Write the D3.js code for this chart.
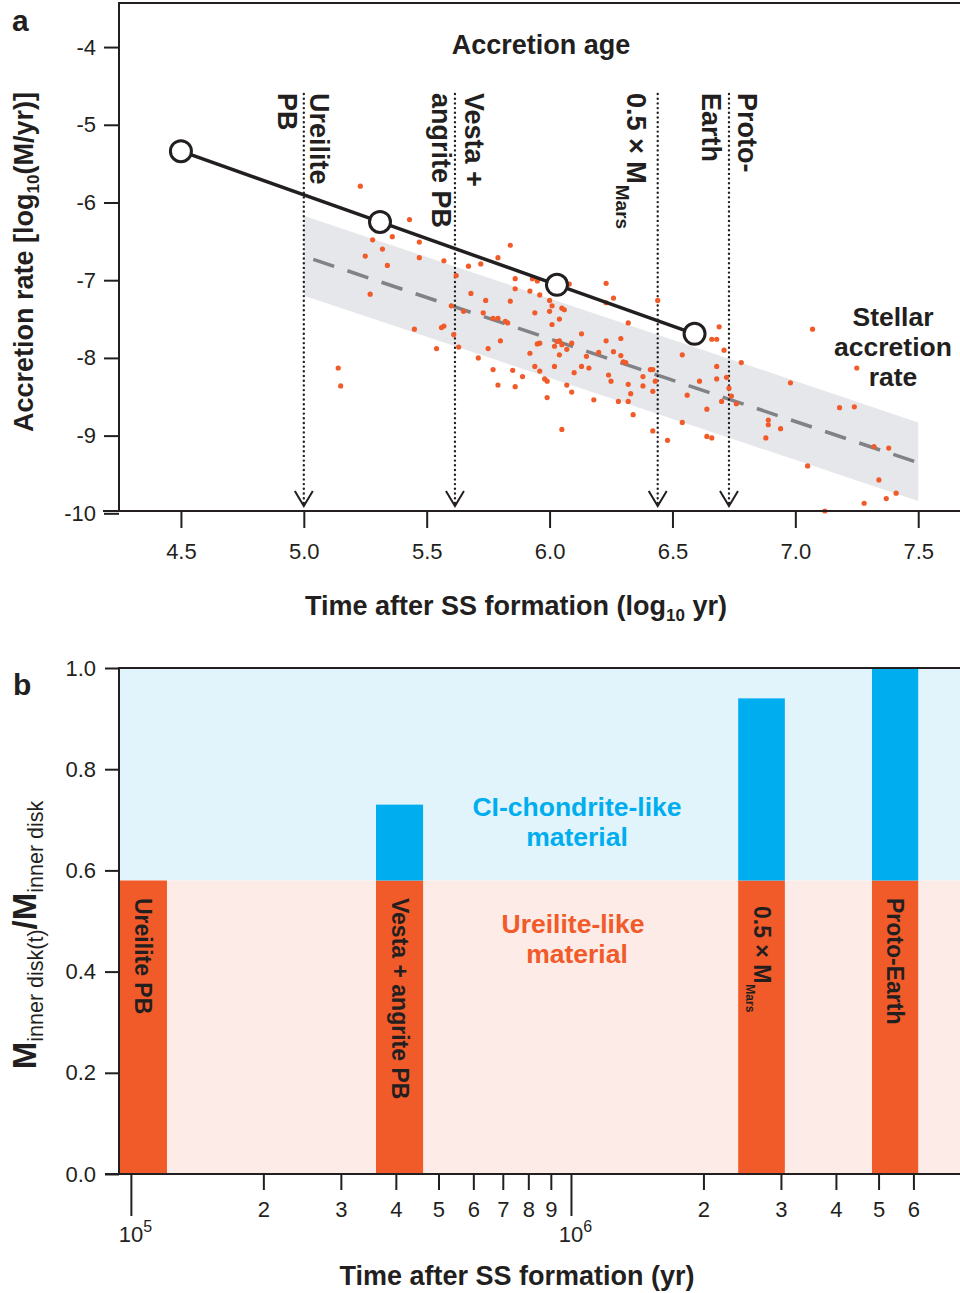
<!DOCTYPE html>
<html>
<head>
<meta charset="utf-8">
<script src="https://cdn.jsdelivr.net/npm/d3@7"></script>
<style>
  body { margin: 0; background: #fff; }
  svg { display: block; }
  text { font-family: "Liberation Sans", Arial, Helvetica, sans-serif; fill: #231f20; }
</style>
</head>
<body>
<svg id="chart" width="960" height="1293"></svg>
<script>
// ---------- Panel a: accretion rates ----------
// Accretion-age curve (log10 time [yr], log10 rate [M/yr])
const accretionLogT = [4.5, 5.31, 6.03, 6.59];
const accretionRate = [-5.34, -6.25, -7.06, -7.69];

// Formation events marked by dotted arrows
const eventLogT = [5.0, 5.615, 6.44, 6.73];
const eventLabels = [["Ureilite", "PB"], ["Vesta +", "angrite PB"], ["0.5 × M"], ["Proto-", "Earth"]];
const eventSub = ["", "", "Mars", ""];

// Stellar accretion-rate trend and its spread
const stellarLogT = [5.0, 7.5];
const stellarMid = [-6.69, -9.35];
const stellarHi = [-6.17, -8.83];
const stellarLo = [-7.20, -9.84];

// Individual young-star measurements
const starLogT = [5.23, 5.43, 5.28, 5.36, 5.47, 5.32, 5.25, 5.47, 5.57, 5.34, 5.27, 5.84, 5.79, 5.72, 5.67,
  5.62, 5.86, 5.93, 5.95, 6.08, 6.23, 5.86, 5.92, 5.96, 5.68, 6.26, 6.23, 5.74, 5.84, 6.00,
  6.01, 6.05, 6.06, 6.00, 5.60, 5.65, 5.73, 5.94, 6.04, 5.77, 5.79, 5.82, 5.83, 6.01, 6.32,
  5.57, 5.56, 5.45, 6.13, 5.61, 5.80, 5.95, 5.96, 6.03, 6.04, 6.05, 6.02, 6.09, 6.07, 6.23,
  6.29, 5.63, 5.75, 5.54, 5.92, 6.04, 6.20, 6.26, 6.29, 6.15, 5.71, 6.30, 6.31, 6.02, 5.94,
  6.13, 6.16, 5.77, 5.85, 5.96, 6.10, 6.24, 5.89, 5.98, 5.99, 6.25, 6.32, 6.07, 5.79, 5.86,
  6.09, 5.99, 6.18, 6.28, 6.32, 6.05, 5.14, 5.15, 6.44, 6.69, 6.66, 6.68, 6.71, 6.54, 6.78,
  6.68, 6.42, 6.41, 6.38, 6.43, 6.61, 6.68, 6.72, 6.38, 6.73, 6.42, 6.33, 6.56, 6.74, 6.70,
  6.76, 6.98, 7.07, 7.25, 6.34, 6.64, 7.18, 7.24, 6.89, 6.89, 6.94, 6.88, 6.54, 6.42, 6.48,
  6.64, 6.66, 7.32, 7.38, 7.05, 7.34, 7.41, 7.37, 7.28, 7.12];
const starRate = [-5.79, -6.22, -6.48, -6.44, -6.51, -6.60, -6.69, -6.71, -6.75, -6.81, -7.18, -6.55, -6.71, -6.79, -6.82,
  -6.94, -6.98, -6.98, -7.01, -7.05, -7.04, -7.11, -7.14, -7.19, -7.17, -7.23, -7.29, -7.26, -7.27, -7.26,
  -7.33, -7.36, -7.38, -7.40, -7.33, -7.40, -7.42, -7.42, -7.50, -7.49, -7.49, -7.53, -7.55, -7.57, -7.55,
  -7.59, -7.61, -7.63, -7.69, -7.70, -7.78, -7.82, -7.81, -7.79, -7.78, -7.83, -7.85, -7.81, -7.89, -7.78,
  -7.75, -7.86, -7.88, -7.88, -7.94, -7.96, -7.93, -7.92, -7.97, -7.98, -8.00, -8.05, -8.06, -8.11, -8.11,
  -8.11, -8.13, -8.15, -8.16, -8.17, -8.19, -8.22, -8.24, -8.27, -8.30, -8.30, -8.34, -8.35, -8.35, -8.37,
  -8.44, -8.51, -8.54, -8.56, -8.56, -8.92, -8.13, -8.36, -7.26, -7.60, -7.76, -7.76, -7.90, -7.96, -8.06,
  -8.11, -8.15, -8.15, -8.24, -8.30, -8.30, -8.27, -8.25, -8.36, -8.39, -8.43, -8.46, -8.48, -8.49, -8.56,
  -8.59, -8.32, -7.63, -8.13, -8.73, -8.66, -8.64, -8.63, -8.80, -8.86, -8.91, -9.03, -8.83, -8.94, -9.06,
  -9.01, -9.03, -9.14, -9.16, -9.39, -9.57, -9.74, -9.81, -9.87, -9.97];

const xTicksA = [4.5, 5.0, 5.5, 6.0, 6.5, 7.0, 7.5];
const yTicksA = [-4, -5, -6, -7, -8, -9, -10];

// ---------- Panel b: inner-disk mass fractions ----------
const bodyNames = ["Ureilite PB", "Vesta + angrite PB", "0.5 × M", "Proto-Earth"];
const bodySub = ["", "", "Mars", ""];
const bodyLogStart = [4.973, 5.557, 6.380, 6.684];   // log10 yr
const bodyLogEnd = [5.082, 5.664, 6.486, 6.789];
const ureiliteFrac = [0.58, 0.58, 0.58, 0.58];
const totalFrac = [0.58, 0.73, 0.94, 1.0];
const ureiliteLevel = 0.58;
const yTicksB = [0, 0.2, 0.4, 0.6, 0.8, 1.0];
const xTicksB = [1e5, 2e5, 3e5, 4e5, 5e5, 6e5, 7e5, 8e5, 9e5, 1e6, 2e6, 3e6, 4e6, 5e6, 6e6];
const xMajorB = [1e5, 1e6];

// ---------- colours ----------
const ORANGE = "#f15a29", BLUE = "#00aeef", INK = "#231f20";
const BG_BLUE = "#e1f4fb", BG_PINK = "#fcebe6", BAND = "#e6e7eb", DASH = "#808285";

const svg = d3.select("#chart");
const FONT = '"Liberation Sans", Arial, Helvetica, sans-serif';
const TITLE = 27;
const NOTE = 26.5;

// multi-line centred label as one text element
function multiline(g, lines, xs, y, step, size, color) {
  const t = g.append("text").attr("y", y).attr("text-anchor", "middle")
    .attr("font-size", size).attr("font-weight", "bold");
  if (color) t.style("fill", color);
  lines.forEach((s, i) => t.append("tspan").attr("x", xs[i]).attr("dy", i === 0 ? 0 : step).text(s));
  return t;
}

// ======================= Panel a =======================
const L = 119, R = 960;
const xa = d3.scaleLinear().domain([4.248, 7.67]).range([L, R]);
const ya = d3.scaleLinear().domain([-9.97, -3.433]).range([511, 3]);
const ga = svg.append("g");

// stellar spread band
const bandPts = stellarLogT.map((t, i) => [xa(t), ya(stellarHi[i])])
  .concat(stellarLogT.map((t, i) => [xa(t), ya(stellarLo[i])]).reverse());
ga.append("path").attr("d", d3.line()(bandPts) + "Z").attr("fill", BAND);

// stellar trend (dashed)
ga.append("path")
  .datum(stellarLogT.map((t, i) => [t, stellarMid[i]]))
  .attr("d", d3.line().x(d => xa(d[0])).y(d => ya(d[1])))
  .attr("fill", "none").attr("stroke", DASH).attr("stroke-width", 3.5)
  .attr("stroke-dasharray", "22,14").attr("stroke-dashoffset", 26);

// event markers: dotted lines with open arrowheads
const evG = ga.append("g");
eventLogT.forEach(t => {
  const x = xa(t);
  evG.append("line").attr("x1", x).attr("x2", x).attr("y1", 94).attr("y2", 503)
    .attr("stroke", INK).attr("stroke-width", 2.4).attr("stroke-linecap", "round")
    .attr("stroke-dasharray", "0,4.7");
  evG.append("path").attr("d", `M${x - 9},${491}L${x},${506}L${x + 9},${491}`)
    .attr("fill", "none").attr("stroke", INK).attr("stroke-width", 2);
});

// star measurements
ga.append("g").selectAll("circle").data(starLogT).join("circle")
  .attr("cx", (d, i) => xa(d)).attr("cy", (d, i) => ya(starRate[i]))
  .attr("r", 2.6).attr("fill", ORANGE);

// accretion-age curve
ga.append("path")
  .datum(accretionLogT.map((t, i) => [t, accretionRate[i]]))
  .attr("d", d3.line().x(d => xa(d[0])).y(d => ya(d[1])))
  .attr("fill", "none").attr("stroke", INK).attr("stroke-width", 3.5);
ga.append("g").selectAll("circle").data(accretionLogT).join("circle")
  .attr("cx", d => xa(d)).attr("cy", (d, i) => ya(accretionRate[i]))
  .attr("r", 10.5).attr("fill", "#fff").attr("stroke", INK).attr("stroke-width", 3);

// event labels (rotated, reading downward)
const lineDx = [[6, -26], [10, -23], [-31], [9, -27]];
eventLabels.forEach((lines, i) => {
  lines.forEach((s, j) => {
    const t = ga.append("text")
      .attr("transform", `translate(${xa(eventLogT[i]) + lineDx[i][j]},93) rotate(90)`)
      .attr("font-size", TITLE).attr("font-weight", "bold").text(s);
    if (j === 0 && eventSub[i]) {
      t.append("tspan").attr("font-size", 19).attr("dy", 11).attr("dx", 1).text(eventSub[i]);
    }
  });
});

// frame
ga.append("path").attr("d", `M${L},511V3H${R}`).attr("fill", "none")
  .attr("stroke", INK).attr("stroke-width", 2);

// axes
const axA = ga.append("g").attr("transform", "translate(0,511)")
  .call(d3.axisBottom(xa).tickValues(xTicksA).tickFormat(d => d.toFixed(1))
    .tickSize(17).tickPadding(15));
axA.select(".domain").attr("d", `M103,0H${R}`).attr("stroke", INK).attr("stroke-width", 2);
const ayA = ga.append("g").attr("transform", `translate(${L},0)`)
  .call(d3.axisLeft(ya).tickValues(yTicksA).tickFormat(d => String(d))
    .tickSize(15).tickPadding(8));
ayA.select(".domain").remove();
[axA, ayA].forEach(g => {
  g.attr("font-family", FONT).attr("font-size", 22);
  g.selectAll(".tick line").attr("stroke", INK).attr("stroke-width", 2);
  g.selectAll(".tick text").attr("fill", INK);
});

// annotations
ga.append("text").attr("x", 541).attr("y", 54).attr("text-anchor", "middle")
  .attr("font-size", TITLE).attr("font-weight", "bold").text("Accretion age");
multiline(ga, ["Stellar", "accretion", "rate"], [893, 893, 893], 326, 30, NOTE);

// axis titles
const yTitleA = ga.append("text").attr("transform", "translate(33,262) rotate(-90)")
  .attr("text-anchor", "middle").attr("font-size", TITLE).attr("font-weight", "bold");
yTitleA.append("tspan").text("Accretion rate [log");
yTitleA.append("tspan").attr("font-size", 17).attr("dy", 6).text("10");
yTitleA.append("tspan").attr("dy", -6).text("(M/yr)]");

const xTitleA = ga.append("text").attr("x", 516).attr("y", 615).attr("text-anchor", "middle")
  .attr("font-size", TITLE).attr("font-weight", "bold");
xTitleA.append("tspan").text("Time after SS formation (log");
xTitleA.append("tspan").attr("font-size", 17).attr("dy", 6).text("10");
xTitleA.append("tspan").attr("dy", -6).text(" yr)");

svg.append("text").attr("x", 12).attr("y", 31).attr("font-size", 30)
  .attr("font-weight", "bold").text("a");

// ======================= Panel b =======================
const T = 668, B = 1174;
const xb = d3.scaleLog().domain([Math.pow(10, 4.973), Math.pow(10, 6.884)]).range([L, R]);
const yb = d3.scaleLinear().domain([0, 1]).range([B, T]);
const gb = svg.append("g");

// material backgrounds
gb.append("rect").attr("x", L).attr("width", R - L)
  .attr("y", yb(1)).attr("height", yb(ureiliteLevel) - yb(1)).attr("fill", BG_BLUE);
gb.append("rect").attr("x", L).attr("width", R - L)
  .attr("y", yb(ureiliteLevel)).attr("height", yb(0) - yb(ureiliteLevel)).attr("fill", BG_PINK);

// stacked bars
bodyNames.forEach((name, i) => {
  const x0 = xb(Math.pow(10, bodyLogStart[i])), x1 = xb(Math.pow(10, bodyLogEnd[i]));
  gb.append("rect").attr("x", x0).attr("width", x1 - x0)
    .attr("y", yb(ureiliteFrac[i])).attr("height", yb(0) - yb(ureiliteFrac[i])).attr("fill", ORANGE);
  if (totalFrac[i] > ureiliteFrac[i]) {
    gb.append("rect").attr("x", x0).attr("width", x1 - x0)
      .attr("y", yb(totalFrac[i])).attr("height", yb(ureiliteFrac[i]) - yb(totalFrac[i])).attr("fill", BLUE);
  }
  const cx = (x0 + x1) / 2;
  const t = gb.append("text")
    .attr("transform", `translate(${cx - 8},${i === 2 ? 906 : 898}) rotate(90)`)
    .attr("font-size", 23).attr("font-weight", "bold").text(name);
  if (bodySub[i]) t.append("tspan").attr("font-size", 12).attr("dy", 8).attr("dx", 1).text(bodySub[i]);
});

// material labels
multiline(gb, ["CI-chondrite-like", "material"], [577, 577], 816, 30, NOTE, BLUE);
multiline(gb, ["Ureilite-like", "material"], [573, 577], 933, 30, NOTE, ORANGE);

// frame
gb.append("path").attr("d", `M${L},${B}V${T}H${R}`).attr("fill", "none")
  .attr("stroke", INK).attr("stroke-width", 2);

// axes
const ayB = gb.append("g").attr("transform", `translate(${L},0)`)
  .call(d3.axisLeft(yb).tickValues(yTicksB).tickFormat(d => d.toFixed(1))
    .tickSize(14).tickPadding(9));
ayB.select(".domain").remove();
const axB = gb.append("g").attr("transform", `translate(0,${B})`)
  .call(d3.axisBottom(xb).tickValues(xTicksB)
    .tickFormat(d => xMajorB.includes(d) ? "" : String(Math.round(d / Math.pow(10, Math.floor(Math.log10(d) + 1e-9)))))
    .tickSize(16).tickPadding(11));
axB.select(".domain").attr("d", `M105,0H${R}`).attr("stroke", INK).attr("stroke-width", 2);
[axB, ayB].forEach(g => {
  g.attr("font-family", FONT).attr("font-size", 22);
  g.selectAll(".tick line").attr("stroke", INK).attr("stroke-width", 2);
  g.selectAll(".tick text").attr("fill", INK);
});
axB.selectAll(".tick").filter(d => xMajorB.includes(d)).each(function (d) {
  const g = d3.select(this);
  g.select("line").attr("y2", 42);
  const t = g.select("text").attr("y", 68).attr("dy", 0).attr("dx", 4);
  t.append("tspan").text("10");
  t.append("tspan").attr("font-size", 16).attr("dy", -10).text(String(Math.round(Math.log10(d))));
});

// axis titles
const yTitleB = gb.append("text").attr("transform", "translate(36,935) rotate(-90)")
  .attr("text-anchor", "middle");
yTitleB.append("tspan").attr("font-size", 33).attr("font-weight", "bold").text("M");
yTitleB.append("tspan").attr("font-size", 21.5).attr("dy", 7).text("inner disk(t)");
yTitleB.append("tspan").attr("font-size", 33).attr("font-weight", "bold").attr("dy", -7).text("/M");
yTitleB.append("tspan").attr("font-size", 21.5).attr("dy", 7).text("inner disk");

gb.append("text").attr("x", 517).attr("y", 1285).attr("text-anchor", "middle")
  .attr("font-size", TITLE).attr("font-weight", "bold").text("Time after SS formation (yr)");

svg.append("text").attr("x", 13).attr("y", 695).attr("font-size", 30)
  .attr("font-weight", "bold").text("b");
</script>
</body>
</html>
